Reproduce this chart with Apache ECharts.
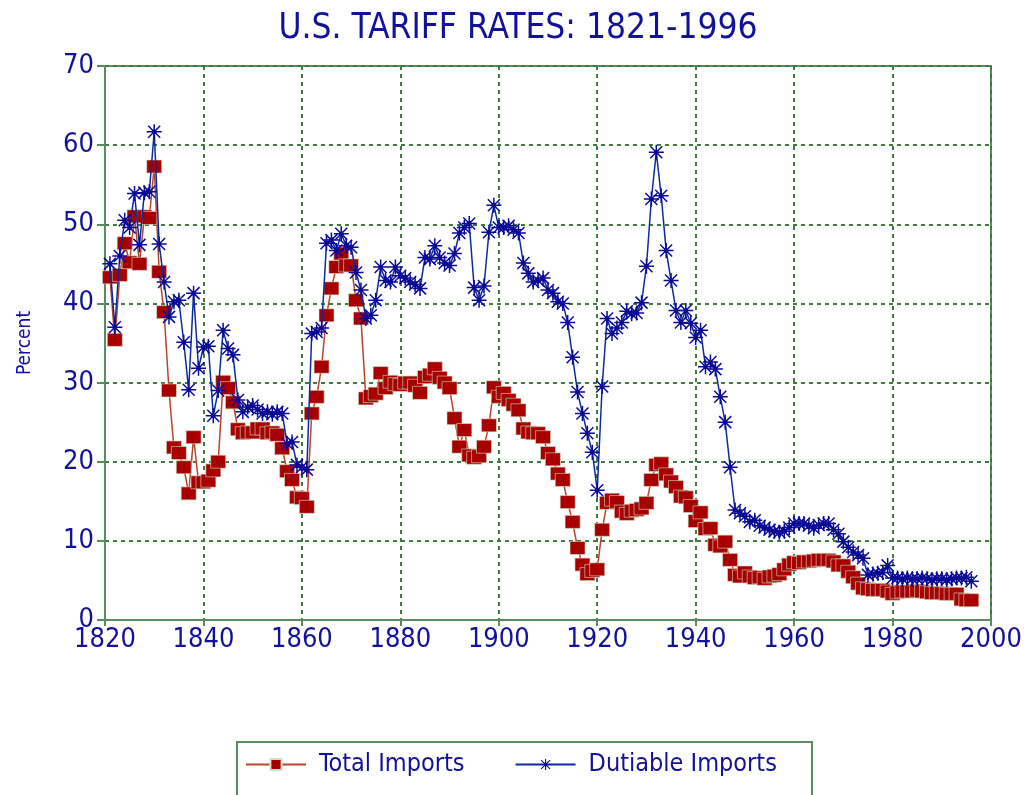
<!DOCTYPE html>
<html>
<head>
<meta charset="utf-8">
<script src="https://cdn.jsdelivr.net/npm/echarts@6/dist/echarts.min.js"></script>
<style>
  html, body { margin: 0; padding: 0; background: #fff; }
  #chart { width: 1036px; height: 795px; }
</style>
</head>
<body>
<div id="chart"></div>
<script>
// yearly tariff rates, 1821 .. 1996
var firstYear = 1821;

var totalImports = [
    43.3, 35.4, 43.6, 47.6, 45.2, 51.0, 45.0, 51.0, 50.8, 57.3,   // 1821-1830
    44.0, 38.9, 29.0, 21.8, 21.1, 19.3, 16.0, 23.1, 17.4, 17.4,   // 1831-1840
    17.6, 18.9, 20.0, 30.1, 29.3, 27.5, 24.1, 23.6, 23.7, 23.7,   // 1841-1850
    24.2, 24.2, 23.6, 23.7, 23.4, 21.7, 18.8, 17.7, 15.5, 15.4,   // 1851-1860
    14.3, 26.1, 28.2, 32.0, 38.5, 41.9, 44.6, 46.3, 44.8, 44.8,   // 1861-1870
    40.4, 38.1, 28.0, 28.3, 28.6, 31.2, 29.3, 30.1, 29.8, 29.7,   // 1871-1880
    30.0, 30.0, 29.6, 28.7, 30.7, 31.0, 31.8, 30.6, 30.0, 29.3,   // 1881-1890
    25.5, 21.9, 24.0, 20.8, 20.5, 20.7, 21.9, 24.6, 29.4, 28.2,   // 1891-1900
    28.7, 27.8, 27.2, 26.5, 24.2, 23.7, 23.6, 23.6, 23.1, 21.1,   // 1901-1910
    20.3, 18.5, 17.7, 14.9, 12.4, 9.1, 7.0, 5.8, 6.2, 6.4,        // 1911-1920
    11.4, 14.8, 15.2, 14.9, 13.7, 13.4, 13.8, 13.9, 14.1, 14.8,   // 1921-1930
    17.7, 19.6, 19.8, 18.4, 17.5, 16.8, 15.6, 15.5, 14.4, 12.5,   // 1931-1940
    13.6, 11.5, 11.6, 9.5, 9.3, 9.9, 7.6, 5.7, 5.5, 6.0,          // 1941-1950
    5.5, 5.3, 5.4, 5.2, 5.5, 5.6, 5.8, 6.4, 7.0, 7.3,             // 1951-1960
    7.2, 7.4, 7.4, 7.5, 7.6, 7.6, 7.6, 7.4, 6.9, 6.9,             // 1961-1970
    6.1, 5.4, 4.6, 4.0, 3.9, 3.8, 3.8, 3.8, 3.6, 3.3,             // 1971-1980
    3.5, 3.6, 3.6, 3.6, 3.7, 3.6, 3.5, 3.4, 3.4, 3.4,             // 1981-1990
    3.3, 3.3, 3.3, 2.6, 2.5, 2.5                                  // 1991-1996
];

var dutiableImports = [
    45.0, 37.0, 46.0, 50.5, 49.6, 53.9, 47.4, 54.0, 54.1, 61.7,   // 1821-1830
    47.5, 42.7, 38.3, 40.2, 40.4, 35.1, 29.1, 41.3, 31.8, 34.5,   // 1831-1840
    34.6, 25.8, 29.0, 36.6, 34.3, 33.5, 27.8, 26.3, 26.9, 27.1,   // 1841-1850
    26.6, 26.1, 26.3, 26.0, 26.3, 26.1, 22.3, 22.5, 19.6, 19.3,   // 1851-1860
    19.0, 36.2, 36.4, 36.9, 47.6, 48.0, 46.7, 48.8, 47.3, 47.1,   // 1861-1870
    43.9, 41.7, 38.1, 38.5, 40.4, 44.6, 42.9, 42.7, 44.6, 43.5,   // 1871-1880
    43.2, 42.7, 42.4, 41.9, 45.8, 45.6, 47.3, 45.8, 45.1, 44.8,   // 1881-1890
    46.3, 48.9, 49.6, 50.1, 42.0, 40.4, 42.2, 49.0, 52.4, 49.6,   // 1891-1900
    49.6, 49.8, 49.3, 48.9, 45.1, 43.8, 42.7, 42.9, 43.2, 41.7,   // 1901-1910
    41.3, 40.2, 40.0, 37.6, 33.2, 28.8, 26.1, 23.6, 21.2, 16.4,   // 1911-1920
    29.5, 38.1, 36.2, 36.9, 37.6, 39.0, 38.7, 38.8, 40.1, 44.7,   // 1921-1930
    53.2, 59.1, 53.6, 46.7, 42.9, 39.1, 37.6, 39.1, 37.5, 35.7,   // 1931-1940
    36.6, 32.0, 32.6, 31.7, 28.2, 25.0, 19.3, 13.9, 13.5, 13.1,   // 1941-1950
    12.4, 12.6, 11.9, 11.7, 11.4, 11.2, 11.1, 11.2, 11.7, 12.2,   // 1951-1960
    12.2, 12.2, 11.9, 11.6, 12.0, 12.2, 12.2, 11.4, 10.9, 9.9,    // 1961-1970
    9.2, 8.6, 8.2, 7.8, 5.7, 5.8, 5.9, 6.0, 6.9, 5.3,             // 1971-1980
    5.3, 5.2, 5.3, 5.2, 5.2, 5.3, 5.2, 5.1, 5.2, 5.2,             // 1981-1990
    5.1, 5.2, 5.3, 5.3, 5.4, 4.9                                  // 1991-1996
];

var yTicks = [0, 10, 20, 30, 40, 50, 60, 70];
var xTicks = [1820, 1840, 1860, 1880, 1900, 1920, 1940, 1960, 1980, 2000];

var NARROW = "'Liberation Sans Narrow', 'Arial Narrow', 'DejaVu Sans Condensed', sans-serif";
var BLUE_TEXT = '#11119a';
var GREEN = '#5b8c5b';

// asterisk marker for the dutiable series
var STAR = 'path://M0,9 L20,9 L20,11 L0,11 Z M9,0 L11,0 L11,20 L9,20 Z ' +
    'M1.3,2.7 L2.7,1.3 L18.7,17.3 L17.3,18.7 Z M17.3,1.3 L18.7,2.7 L2.7,18.7 L1.3,17.3 Z ' +
    'M7,7 L13,7 L13,13 L7,13 Z';

function pairs(values) {
    var out = [];
    for (var i = 0; i < values.length; i++) {
        out.push([firstYear + i, values[i]]);
    }
    return out;
}

var chart = echarts.init(document.getElementById('chart'));

var option = {
    animation: false,
    backgroundColor: '#fff',
    title: {
        text: 'U.S. TARIFF RATES: 1821-1996',
        left: 'center',
        top: 6,
        textStyle: {
            fontFamily: NARROW,
            fontSize: 35,
            fontWeight: 'normal',
            color: BLUE_TEXT
        }
    },
    grid: {
        left: 105,
        right: 45,
        top: 66,
        bottom: 175,
        show: true,
        borderColor: GREEN,
        borderWidth: 2
    },
    legend: {
        left: 245,
        top: 752,
        itemWidth: 60,
        itemHeight: 14,
        itemGap: 50,
        padding: 0,
        textStyle: {
            fontFamily: NARROW,
            fontSize: 25,
            color: BLUE_TEXT,
            padding: [0, 0, 0, 8]
        },
        data: ['Total Imports', 'Dutiable Imports']
    },
    graphic: [{
        type: 'rect',
        shape: { x: 237, y: 742, width: 575, height: 70 },
        style: { fill: 'none', stroke: GREEN, lineWidth: 2 },
        silent: true,
        z: -1
    }],
    xAxis: {
        type: 'value',
        min: xTicks[0],
        max: xTicks[xTicks.length - 1],
        interval: 20,
        axisLine: { show: true, lineStyle: { color: GREEN, width: 2 } },
        axisTick: { show: true, length: 6, lineStyle: { color: GREEN, width: 2 } },
        axisLabel: {
            margin: 6,
            fontFamily: NARROW,
            fontSize: 27,
            color: BLUE_TEXT,
            formatter: function (v) { return String(v); }
        },
        splitLine: {
            show: true,
            lineStyle: { color: '#3f7a3f', width: 2, type: [4, 4] }
        }
    },
    yAxis: {
        type: 'value',
        min: yTicks[0],
        max: yTicks[yTicks.length - 1],
        interval: 10,
        name: 'Percent',
        nameLocation: 'middle',
        nameRotate: 90,
        nameGap: 70,
        nameTextStyle: {
            fontFamily: NARROW,
            fontSize: 19,
            color: BLUE_TEXT
        },
        axisLine: { show: true, lineStyle: { color: GREEN, width: 2 } },
        axisTick: { show: true, inside: false, length: 8, lineStyle: { color: GREEN, width: 2 } },
        axisLabel: {
            margin: 11,
            fontFamily: NARROW,
            fontSize: 27,
            color: BLUE_TEXT
        },
        splitLine: {
            show: true,
            lineStyle: { color: '#3f7a3f', width: 2, type: [4, 4] }
        }
    },
    series: [{
        name: 'Total Imports',
        type: 'line',
        symbol: 'rect',
        symbolSize: [15, 13],
        showAllSymbol: true,
        lineStyle: { color: '#b5462a', width: 1.5 },
        itemStyle: { color: '#a80000', borderColor: '#cfe3c8', borderWidth: 0.6 },
        data: pairs(totalImports),
        z: 2
    }, {
        name: 'Dutiable Imports',
        type: 'line',
        symbol: STAR,
        symbolSize: 15,
        showAllSymbol: true,
        lineStyle: { color: '#0b2a9c', width: 1.5 },
        itemStyle: { color: '#0a0a96' },
        data: pairs(dutiableImports),
        z: 3
    }]
};

chart.setOption(option);
</script>
</body>
</html>
